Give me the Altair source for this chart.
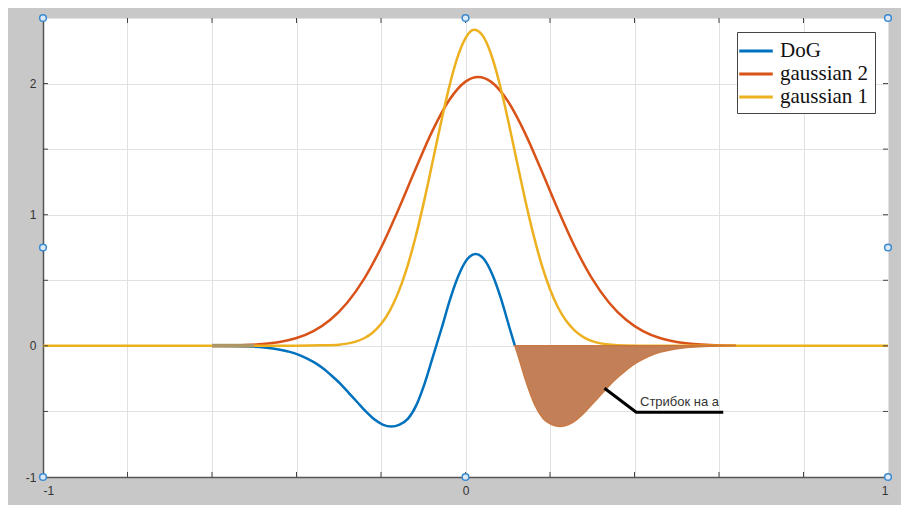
import altair as alt
import pandas as pd

# ---- axis ticks ----
x_ticks = [-1, -0.8, -0.6, -0.4, -0.2, 0, 0.2, 0.4, 0.6, 0.8, 1]
y_ticks = [-1, -0.5, 0, 0.5, 1, 1.5, 2, 2.5]
x_inner_ticks = [-0.8, -0.6, -0.4, -0.2, 0, 0.2, 0.4, 0.6, 0.8]
y_inner_ticks = [-0.5, 0, 0.5, 1, 1.5, 2]

# ---- series ----
dog_x = [-0.6, -0.516, -0.476, -0.456, -0.436, -0.416, -0.396, -0.376, -0.356, -0.336,
         -0.316, -0.296, -0.276, -0.256, -0.236, -0.216, -0.196, -0.176, -0.156, -0.136,
         -0.116, -0.096, -0.076, -0.056, -0.036, -0.016, 0.004, 0.024, 0.044, 0.064,
         0.084, 0.104, 0.117]
dog_y = [0.0, -0.004, -0.012, -0.02, -0.031, -0.046, -0.067, -0.095, -0.13, -0.175,
         -0.23, -0.29, -0.36, -0.43, -0.50, -0.56, -0.60, -0.615, -0.60, -0.555,
         -0.45, -0.28, -0.07, 0.14, 0.36, 0.54, 0.66, 0.70, 0.66, 0.54,
         0.36, 0.14, 0.0]

g2_x = [-0.6, -0.56, -0.52, -0.48, -0.44, -0.40, -0.36, -0.32, -0.28, -0.24, -0.20,
        -0.16, -0.12, -0.08, -0.04, 0.0, 0.03, 0.06, 0.10, 0.14, 0.18, 0.22, 0.26,
        0.30, 0.34, 0.38, 0.42, 0.46, 0.50, 0.54, 0.58, 0.64]
g2_y = [0.001, 0.003, 0.006, 0.014, 0.030, 0.060, 0.113, 0.199, 0.329, 0.511, 0.748,
        1.031, 1.335, 1.628, 1.867, 2.015, 2.05, 2.015, 1.867, 1.628, 1.335, 1.031, 0.748,
        0.511, 0.329, 0.199, 0.113, 0.060, 0.030, 0.014, 0.006, 0.002]

g1_x = [-1.0, -0.6, -0.4, -0.34, -0.30, -0.28, -0.26, -0.24, -0.22, -0.20, -0.18, -0.16,
        -0.14, -0.12, -0.10, -0.08, -0.06, -0.04, -0.02, 0.0, 0.02, 0.04, 0.06,
        0.08, 0.10, 0.12, 0.14, 0.16, 0.18, 0.20, 0.22, 0.24, 0.26, 0.28, 0.30,
        0.32, 0.34, 0.38, 0.44, 0.6, 1.0]
g1_y = [0.0, 0.0, 0.001, 0.004, 0.009, 0.017, 0.032, 0.058, 0.100, 0.166, 0.263, 0.400,
        0.580, 0.807, 1.075, 1.371, 1.673, 1.956, 2.190, 2.347, 2.41, 2.368, 2.229,
        2.008, 1.732, 1.431, 1.132, 0.858, 0.622, 0.432, 0.287, 0.183, 0.112, 0.065, 0.036,
        0.019, 0.010, 0.002, 0.0, 0.0, 0.0]

# shaded negative lobe ("jump")
fill_x = [0.117, 0.124, 0.144, 0.164, 0.184, 0.204, 0.224, 0.244, 0.264, 0.284, 0.304,
          0.324, 0.344, 0.364, 0.384, 0.404, 0.424, 0.444, 0.464, 0.484, 0.504, 0.524,
          0.564, 0.64]
fill_y = [0.0, -0.07, -0.28, -0.45, -0.555, -0.60, -0.615, -0.60, -0.56, -0.50, -0.43,
          -0.36, -0.29, -0.23, -0.175, -0.13, -0.095, -0.067, -0.046, -0.031, -0.02, -0.012,
          -0.004, 0.0]

# overlapping thick segment on the left
seg_x = [-0.6, -0.5]
seg_y = [0.0, 0.0]

# annotation
ann_x = [0.329, 0.404, 0.61]
ann_y = [-0.323, -0.506, -0.506]
ann_text = ["Стрибок на a"]
ann_text_x = [0.413]
ann_text_y = [-0.425]

# edit handles of the axes box
handle_x = [-1, 0, 1, -1, 1, -1, 0, 1]
handle_y = [2.5, 2.5, 2.5, 0.75, 0.75, -1, -1, -1]

series_names = ["DoG", "gaussian 2", "gaussian 1"]
series_colors = ["#0072BD", "#D95319", "#EDB120"]

W, H = 845, 459

rows = []
for name, xs_, ys_ in [("DoG", dog_x, dog_y), ("gaussian 2", g2_x, g2_y), ("gaussian 1", g1_x, g1_y)]:
    for a, b in zip(xs_, ys_):
        rows.append({"x": a, "y": b, "series": name})
lines_df = pd.DataFrame(rows)

xs = alt.Scale(domain=[-1, 1], nice=False, zero=False)
ys = alt.Scale(domain=[-1, 2.5], nice=False, zero=False)

xaxis = alt.Axis(values=x_ticks, title=None, grid=True, gridColor="#e1e1e1",
                 tickSize=0, domainColor="#555555", domainWidth=1.5,
                 labelExpr="abs(datum.value - round(datum.value)) < 0.000001 ? '' + round(datum.value) : ''",
                 labelFont="Liberation Sans", labelFontSize=12, labelColor="#333333",
                 labelPadding=8)
yaxis = alt.Axis(values=y_ticks, title=None, grid=True, gridColor="#e1e1e1",
                 tickSize=0, domainColor="#555555", domainWidth=1.5,
                 labelExpr="abs(datum.value - round(datum.value)) < 0.000001 && datum.value < 2.4 ? '' + round(datum.value) : ''",
                 labelFont="Liberation Sans", labelFontSize=12, labelColor="#333333",
                 labelPadding=7)


def X(f):
    return alt.X(f, scale=xs, axis=xaxis)


def Y(f):
    return alt.Y(f, scale=ys, axis=yaxis)


lines = alt.Chart(lines_df).mark_line(strokeWidth=2.5, interpolate="monotone").encode(
    x=X("x:Q"),
    y=Y("y:Q"),
    color=alt.Color("series:N",
                    scale=alt.Scale(domain=series_names, range=series_colors),
                    legend=alt.Legend(orient="none", legendX=694, legendY=14, title=None,
                                      symbolType="M-1.5,0H1.5", symbolSize=500,
                                      symbolStrokeWidth=3, labelFont="Liberation Serif",
                                      labelFontSize=21, labelColor="#111111",
                                      fillColor="white", strokeColor="#444444",
                                      padding=6, rowPadding=0, labelOffset=11,
                                      cornerRadius=0)),
)

seg = alt.Chart(pd.DataFrame({"x": seg_x, "y": seg_y})).mark_line(
    color="#a8956e", strokeWidth=4, opacity=0.9).encode(x=X("x:Q"), y=Y("y:Q"))

area = alt.Chart(pd.DataFrame({"x": fill_x, "y": fill_y})).mark_area(
    color="#c07a50", opacity=0.95, interpolate="monotone",
    stroke="#c8743c", strokeWidth=1.5).encode(
    x=X("x:Q"), y=Y("y:Q"), y2=alt.datum(0))

ann_df = pd.DataFrame({"x": ann_x, "y": ann_y, "o": list(range(len(ann_x)))})
ann_line = alt.Chart(ann_df).mark_line(color="black", strokeWidth=3).encode(
    x=X("x:Q"), y=Y("y:Q"), order="o:Q")

ann_lbl = alt.Chart(pd.DataFrame({"x": ann_text_x, "y": ann_text_y, "t": ann_text})).mark_text(
    align="left", baseline="middle", font="Liberation Sans", fontSize=13,
    color="#333333").encode(x=X("x:Q"), y=Y("y:Q"), text="t:N")

xt_df = pd.DataFrame({"x": x_inner_ticks})
yt_df = pd.DataFrame({"y": y_inner_ticks})
tick_top = alt.Chart(xt_df).mark_rule(color="#444444").encode(
    x=X("x:Q"), y=alt.value(0), y2=alt.value(5))
tick_bot = alt.Chart(xt_df).mark_rule(color="#444444").encode(
    x=X("x:Q"), y=alt.value(H), y2=alt.value(H - 5))
tick_left = alt.Chart(yt_df).mark_rule(color="#444444").encode(
    y=Y("y:Q"), x=alt.value(0), x2=alt.value(5))
tick_right = alt.Chart(yt_df).mark_rule(color="#444444").encode(
    y=Y("y:Q"), x=alt.value(W), x2=alt.value(W - 5))

handles = alt.Chart(pd.DataFrame({"x": handle_x, "y": handle_y})).mark_circle(
    size=45, fill="#dceaf7", stroke="#3a8ad0", strokeWidth=1.5, opacity=1).encode(
    x=X("x:Q"), y=Y("y:Q"))

chart = alt.layer(lines, seg, area, ann_line, ann_lbl, tick_top, tick_bot,
                  tick_left, tick_right, handles).properties(
    width=W, height=H,
    autosize=alt.AutoSizeParams(type="none"),
    padding={"left": 35, "top": 10, "right": 13, "bottom": 28},
    background="#c8c8c8",
).configure_view(fill="white", stroke=None)

chart.save("out.html", embed_options={"renderer": "svg", "actions": False})
